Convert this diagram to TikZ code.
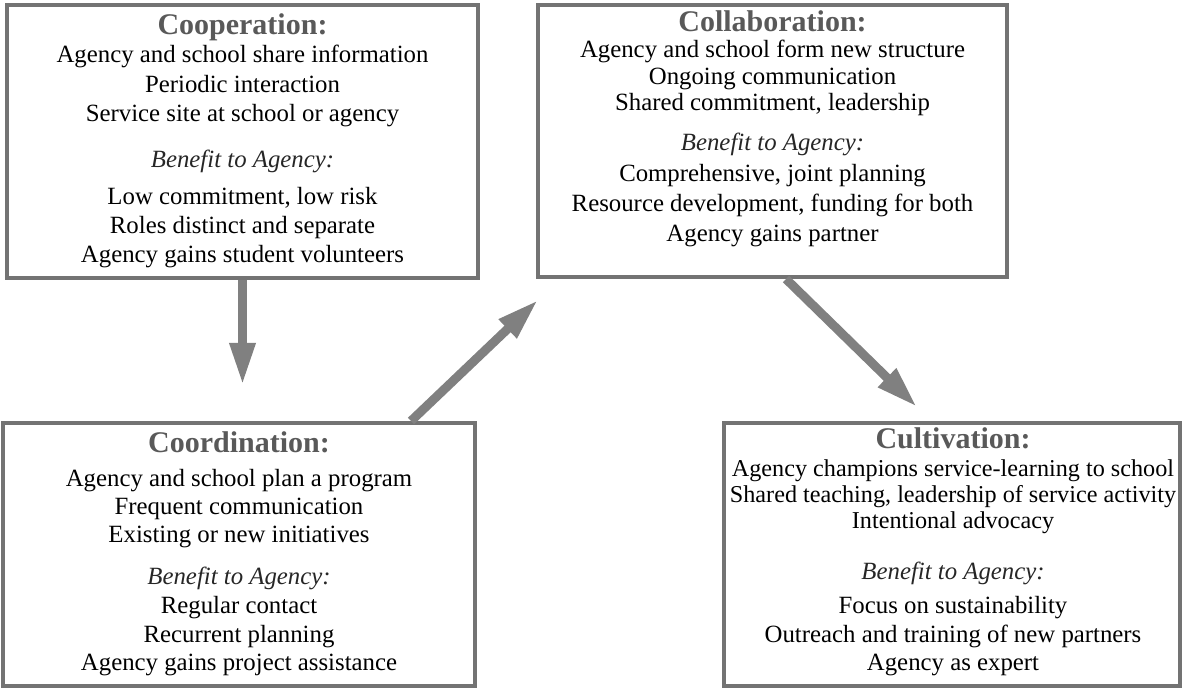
\documentclass[tikz,border=0pt]{standalone}
\usepackage{fontspec}
\setmainfont{Liberation Serif}
\usetikzlibrary{arrows.meta,calc}
\begin{document}
\begin{tikzpicture}[x=0.5pt,y=-0.5pt,
  box/.style={draw=black!55, line width=2pt, inner sep=0pt},
  ttl/.style={anchor=base, text=black!65, font=\fontsize{15}{18}\selectfont\bfseries},
  ln/.style={anchor=base, font=\fontsize{12.4}{14.5}\selectfont},
  lns/.style={anchor=base, font=\fontsize{12.1}{14.5}\selectfont},
  ben/.style={anchor=base, text=black!85, font=\fontsize{12.4}{14.5}\selectfont\itshape},
  bigarrow/.style={draw=black!50, line width=4.5pt, -{Triangle[length=21pt,width=12pt]}}]
\useasboundingbox (0,0) rectangle (1182,688);

% boxes
\node[box, minimum width=235.5pt, minimum height=136.5pt] (coop)   at (242.5,141.5) {};
\node[box, minimum width=234.5pt, minimum height=136pt]   (collab) at (772.5,141) {};
\node[box, minimum width=236pt,   minimum height=131.5pt] (coord)  at (239,554.5) {};
\node[box, minimum width=228pt,   minimum height=131.5pt] (cult)   at (952,554.5) {};

% Cooperation
\node[ttl] (coop0) at (242.5,35)  {Cooperation:};
\node[ln]  (coop1) at (242.5,63)  {Agency and school share information};
\node[ln]  (coop2) at (242.5,93)  {Periodic interaction};
\node[ln]  (coop3) at (242.5,122) {Service site at school or agency};
\node[ben] (coop4) at (242.5,168) {Benefit to Agency:};
\node[ln]  (coop5) at (242.5,205) {Low commitment, low risk};
\node[ln]  (coop6) at (242.5,234) {Roles distinct and separate};
\node[ln]  (coop7) at (242.5,263) {Agency gains student volunteers};

% Collaboration
\node[ttl] (col0) at (772.5,32)  {Collaboration:};
\node[ln]  (col1) at (772.5,58)  {Agency and school form new structure};
\node[ln]  (col2) at (772.5,85)  {Ongoing communication};
\node[ln]  (col3) at (772.5,111) {Shared commitment, leadership};
\node[ben] (col4) at (772.5,151) {Benefit to Agency:};
\node[ln]  (col5) at (772.5,182) {Comprehensive, joint planning};
\node[ln]  (col6) at (772.5,212) {Resource development, funding for both};
\node[ln]  (col7) at (772.5,242) {Agency gains partner};

% Coordination
\node[ttl] (crd0) at (239,453) {Coordination:};
\node[ln]  (crd1) at (239,487) {Agency and school plan a program};
\node[ln]  (crd2) at (239,515) {Frequent communication};
\node[ln]  (crd3) at (239,543) {Existing or new initiatives};
\node[ben] (crd4) at (239,585) {Benefit to Agency:};
\node[ln]  (crd5) at (239,613) {Regular contact};
\node[ln]  (crd6) at (239,642) {Recurrent planning};
\node[ln]  (crd7) at (239,670) {Agency gains project assistance};

% Cultivation
\node[ttl] (cul0) at (953,449) {Cultivation:};
\node[lns] (cul1) at (953,477) {Agency champions service-learning to school};
\node[lns] (cul2) at (953,503) {Shared teaching, leadership of service activity};
\node[lns] (cul3) at (953,529) {Intentional advocacy};
\node[ben] (cul4) at (953,580) {Benefit to Agency:};
\node[ln]  (cul5) at (953,613) {Focus on sustainability};
\node[ln]  (cul6) at (953,642) {Outreach and training of new partners};
\node[ln]  (cul7) at (953,670) {Agency as expert};

% arrows
\coordinate (t1) at (242.5,385);
\coordinate (t2) at (538,300);
\coordinate (t3) at (917,407);
\draw[bigarrow] (coop.south) -- (t1);
\draw[bigarrow] ($(coord.north west)+(410,0)$) -- (t2);
\draw[bigarrow] ($(collab.south west)+(250,0)$) -- (t3);
\end{tikzpicture}
\end{document}
